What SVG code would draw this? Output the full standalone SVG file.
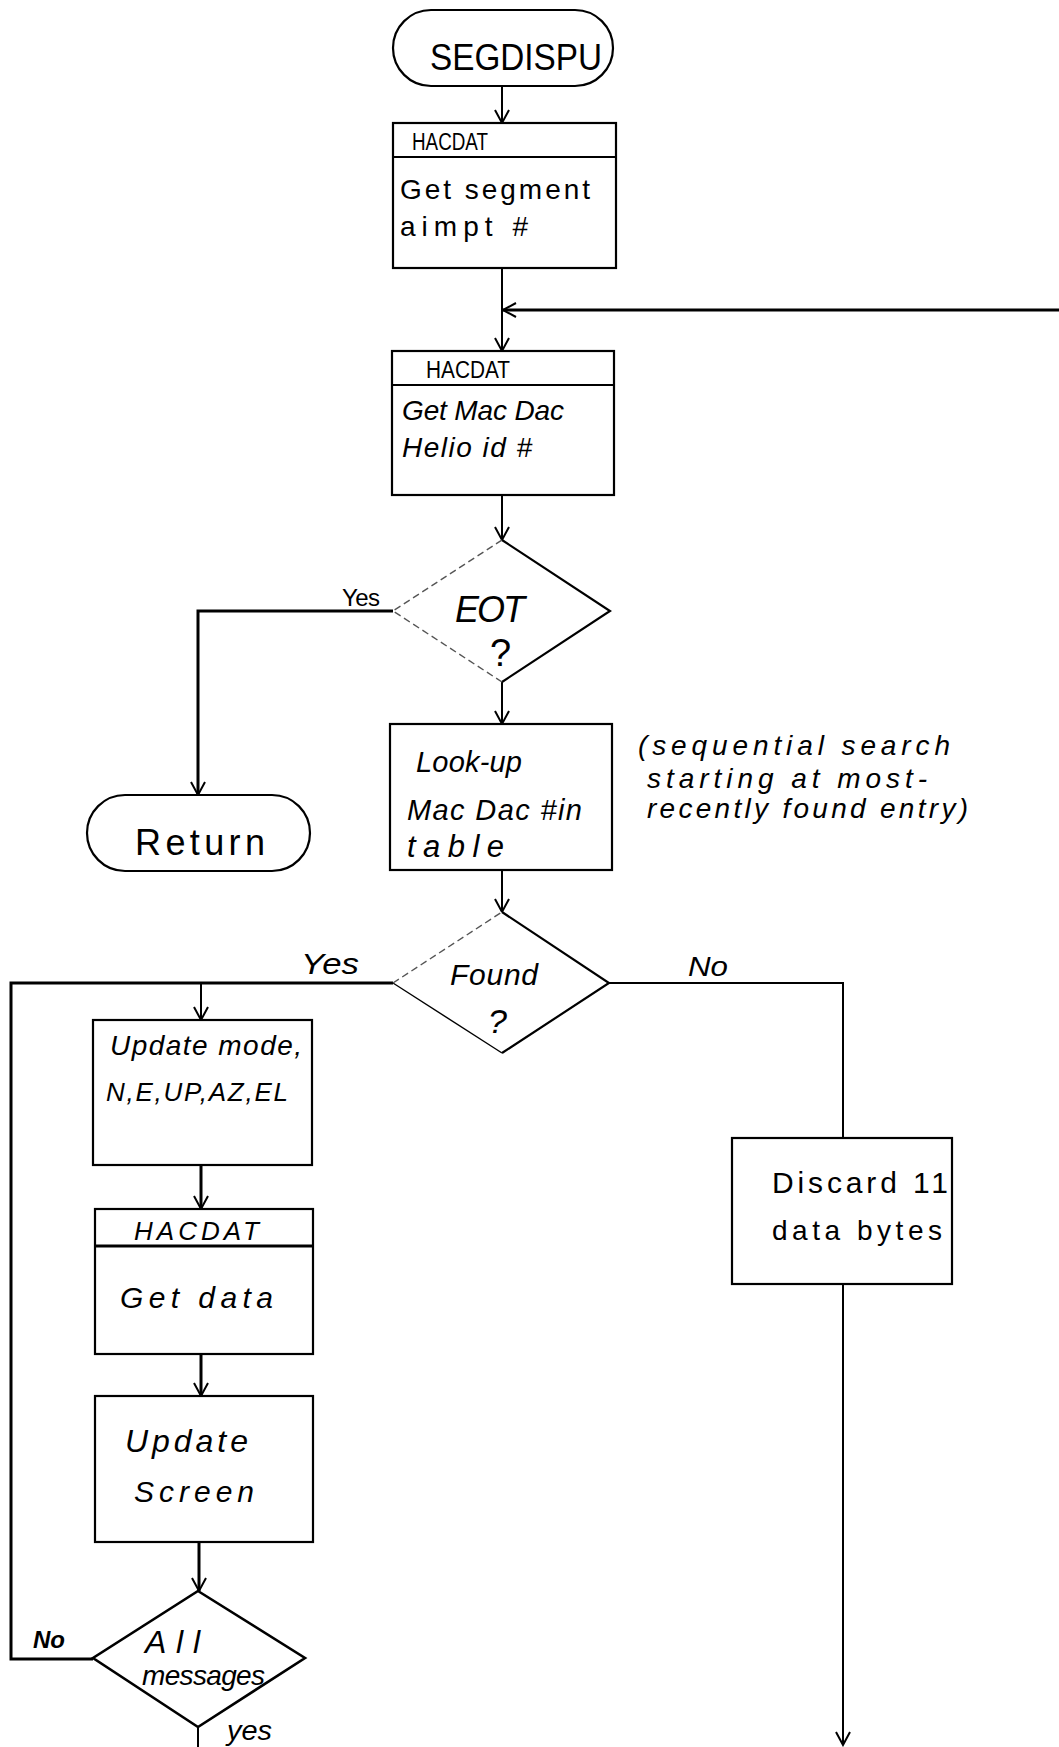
<svg xmlns="http://www.w3.org/2000/svg" width="1059" height="1747" viewBox="0 0 1059 1747">
  <defs>
    <marker id="arrow" markerUnits="userSpaceOnUse" markerWidth="30" markerHeight="30" refX="0" refY="0" viewBox="-15 -15 30 30" orient="auto" overflow="visible">
      <path d="M-13,-7 L0,0 L-13,7" fill="none" stroke="#000" stroke-width="2"/>
    </marker>
    <style>
      .shape { fill: #fff; stroke: #000; stroke-width: 2.2; }
      .rule { stroke: #000; stroke-width: 2.2; fill: none; }
      .faint { stroke: #555; stroke-width: 1.4; fill: none; stroke-dasharray: 7 4; }
      .wire { stroke: #000; stroke-width: 2; fill: none; }
      .wire-heavy { stroke: #000; stroke-width: 3; fill: none; }
      text { font-family: "Liberation Sans", "DejaVu Sans", sans-serif; fill: #000; }
      .hand { font-style: italic; }
    </style>
  </defs>
  <rect width="1059" height="1747" fill="#fff"/>

  <!-- connectors -->
  <g id="connectors">
    <line class="wire" x1="502" y1="86" x2="502" y2="123" marker-end="url(#arrow)"/>
    <line class="wire" x1="502" y1="268" x2="502" y2="310"/>
    <line class="wire-heavy" x1="1059" y1="310" x2="503" y2="310" marker-end="url(#arrow)"/>
    <line class="wire" x1="502" y1="310" x2="502" y2="351" marker-end="url(#arrow)"/>
    <line class="wire" x1="502" y1="495" x2="502" y2="540" marker-end="url(#arrow)"/>
    <!-- EOT yes -> Return -->
    <polyline class="wire-heavy" points="393,611 198,611 198,795" marker-end="url(#arrow)"/>
    <line class="wire" x1="502" y1="682" x2="502" y2="724" marker-end="url(#arrow)"/>
    <line class="wire" x1="502" y1="870" x2="502" y2="912" marker-end="url(#arrow)"/>
    <!-- Found yes branch and loop-back line -->
    <polyline class="wire-heavy" points="393,983 11,983 11,1659 93,1659"/>
    <line class="wire" x1="201" y1="983" x2="201" y2="1020" marker-end="url(#arrow)"/>
    <!-- Found no branch -->
    <polyline class="wire" points="609,983 843,983 843,1138"/>
    <line class="wire" x1="843" y1="1284" x2="843" y2="1745" marker-end="url(#arrow)"/>
    <line class="wire-heavy" x1="201" y1="1165" x2="201" y2="1209" marker-end="url(#arrow)"/>
    <line class="wire-heavy" x1="201" y1="1354" x2="201" y2="1396" marker-end="url(#arrow)"/>
    <line class="wire-heavy" x1="199" y1="1542" x2="199" y2="1591" marker-end="url(#arrow)"/>
    <line class="wire" x1="198" y1="1727" x2="198" y2="1747"/>
    <!-- branch labels -->
    <text x="342" y="606" font-size="24" textLength="38" lengthAdjust="spacing">Yes</text>
    <text class="hand" x="301" y="974" font-size="30" textLength="58" lengthAdjust="spacingAndGlyphs">Yes</text>
    <text class="hand" x="688" y="976" font-size="28" textLength="40" lengthAdjust="spacingAndGlyphs">No</text>
    <text class="hand" x="33" y="1648" font-size="24" font-weight="bold" textLength="32" lengthAdjust="spacingAndGlyphs">No</text>
    <text class="hand" x="227" y="1740" font-size="28" textLength="45" lengthAdjust="spacingAndGlyphs">yes</text>
  </g>

  <!-- start terminal -->
  <g id="start">
    <rect class="shape" x="393" y="10" width="220" height="76" rx="38"/>
    <text x="430" y="70" font-size="37" textLength="172" lengthAdjust="spacingAndGlyphs">SEGDISPU</text>
  </g>

  <g id="get-segment">
    <rect class="shape" x="393" y="123" width="223" height="145"/>
    <line class="rule" x1="393" y1="157" x2="616" y2="157"/>
    <text x="412" y="150" font-size="23" textLength="76" lengthAdjust="spacingAndGlyphs">HACDAT</text>
    <text x="400" y="199" font-size="28" textLength="190" lengthAdjust="spacing">Get segment</text>
    <text x="400" y="236" font-size="28" textLength="128" lengthAdjust="spacing">aimpt #</text>
  </g>

  <g id="get-macdac">
    <rect class="shape" x="392" y="351" width="222" height="144"/>
    <line class="rule" x1="392" y1="385" x2="614" y2="385"/>
    <text x="426" y="378" font-size="23" textLength="84" lengthAdjust="spacingAndGlyphs">HACDAT</text>
    <text class="hand" x="402" y="420" font-size="28" textLength="162" lengthAdjust="spacing">Get Mac Dac</text>
    <text class="hand" x="402" y="457" font-size="28" textLength="130" lengthAdjust="spacing">Helio id #</text>
  </g>

  <g id="eot">
    <polygon class="shape" style="stroke:none" points="502,540 610,611 502,682 393,611"/>
    <polyline class="rule" points="502,540 610,611 502,682"/>
    <polyline class="faint" points="502,682 393,611 502,540"/>
    <text class="hand" x="455" y="622" font-size="36" textLength="70" lengthAdjust="spacing">EOT</text>
    <text x="490" y="666" font-size="38">?</text>
  </g>

  <g id="return">
    <rect class="shape" x="87" y="795" width="223" height="76" rx="38"/>
    <text x="135" y="855" font-size="36" textLength="130" lengthAdjust="spacing">Return</text>
  </g>

  <g id="lookup">
    <rect class="shape" x="390" y="724" width="222" height="146"/>
    <text class="hand" x="416" y="772" font-size="29" textLength="106" lengthAdjust="spacing">Look-up</text>
    <text class="hand" x="407" y="820" font-size="29" textLength="175" lengthAdjust="spacing">Mac Dac #in</text>
    <text class="hand" x="407" y="857" font-size="31" textLength="97" lengthAdjust="spacing">table</text>
  </g>

  <g id="lookup-note">
    <text class="hand" x="638" y="755" font-size="28" textLength="312" lengthAdjust="spacing">(sequential search</text>
    <text class="hand" x="647" y="788" font-size="28" textLength="280" lengthAdjust="spacing">starting at most-</text>
    <text class="hand" x="647" y="818" font-size="28" textLength="321" lengthAdjust="spacing">recently found entry)</text>
  </g>

  <g id="found">
    <polygon class="shape" style="stroke:none" points="502,912 609,983 502,1053 393,983"/>
    <polyline class="rule" points="502,912 609,983 502,1053"/>
    <line class="rule" x1="502" y1="1053" x2="393" y2="983" style="stroke-width:1.4"/>
    <line class="faint" x1="393" y1="983" x2="502" y2="912"/>
    <text class="hand" x="450" y="985" font-size="30" textLength="88" lengthAdjust="spacing">Found</text>
    <text class="hand" x="488" y="1033" font-size="34">?</text>
  </g>

  <g id="update-mode">
    <rect class="shape" x="93" y="1020" width="219" height="145"/>
    <text class="hand" x="110" y="1055" font-size="28" textLength="192" lengthAdjust="spacing">Update mode,</text>
    <text class="hand" x="106" y="1101" font-size="26" textLength="182" lengthAdjust="spacing">N,E,UP,AZ,EL</text>
  </g>

  <g id="get-data">
    <rect class="shape" x="95" y="1209" width="218" height="145"/>
    <line class="rule" x1="95" y1="1246" x2="313" y2="1246" style="stroke-width:3"/>
    <text class="hand" x="134" y="1240" font-size="26" textLength="125" lengthAdjust="spacing">HACDAT</text>
    <text class="hand" x="120" y="1308" font-size="30" textLength="153" lengthAdjust="spacing">Get data</text>
  </g>

  <g id="update-screen">
    <rect class="shape" x="95" y="1396" width="218" height="146"/>
    <text class="hand" x="125" y="1452" font-size="32" textLength="123" lengthAdjust="spacing">Update</text>
    <text class="hand" x="134" y="1502" font-size="30" textLength="120" lengthAdjust="spacing">Screen</text>
  </g>

  <g id="all-messages">
    <polygon class="shape" style="stroke-width:2.6" points="198,1591 305,1658 198,1727 93,1658"/>
    <text class="hand" x="145" y="1653" font-size="32" textLength="55" lengthAdjust="spacing">All</text>
    <text class="hand" x="142" y="1685" font-size="28" textLength="123" lengthAdjust="spacing">messages</text>
  </g>

  <g id="discard">
    <rect class="shape" x="732" y="1138" width="220" height="146"/>
    <text x="772" y="1193" font-size="30" textLength="176" lengthAdjust="spacing">Discard 11</text>
    <text x="772" y="1240" font-size="28" textLength="170" lengthAdjust="spacing">data bytes</text>
  </g>
</svg>
